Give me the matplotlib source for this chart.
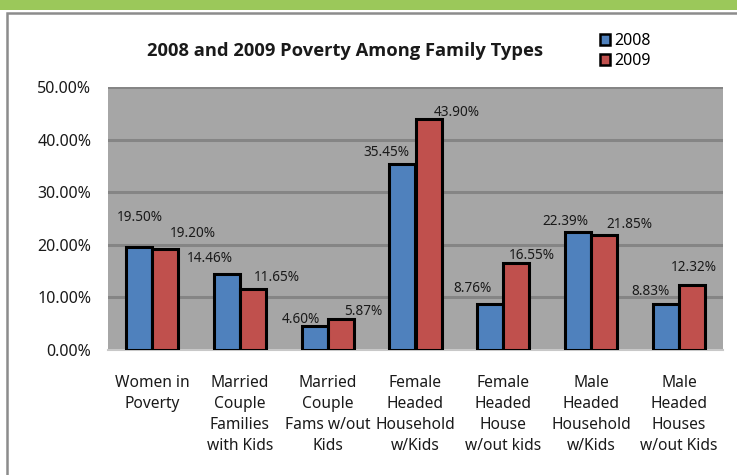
import matplotlib
matplotlib.use("Agg")
import matplotlib.pyplot as plt
from matplotlib.patches import Rectangle, Patch
import numpy as np

plt.rcParams['font.family'] = ['Noto Sans', 'DejaVu Sans']

categories = ["Women in\nPoverty", "Married\nCouple\nFamilies\nwith Kids",
              "Married\nCouple\nFams w/out\nKids", "Female\nHeaded\nHousehold\nw/Kids",
              "Female\nHeaded\nHouse\nw/out kids", "Male\nHeaded\nHousehold\nw/Kids",
              "Male\nHeaded\nHouses\nw/out Kids"]
series_2008 = [19.50, 14.46, 4.60, 35.45, 8.76, 22.39, 8.83]
series_2009 = [19.20, 11.65, 5.87, 43.90, 16.55, 21.85, 12.32]
series_names = ["2008", "2009"]
ytick_values = [0, 10, 20, 30, 40, 50]

# label offsets (pixels) relative to bar top center
off_2008 = [(1, 30), (-17, 15), (-14, 6), (-16, 11), (-18, 15), (-13, 11), (-16, 12)]
off_2009 = [(28, 16), (24, 11), (23, 8), (28, 7), (15, 7), (25, 11), (2, 18)]

W, H = 737, 475
fig = plt.figure(figsize=(W / 100, H / 100), dpi=100)
fig.patch.set_facecolor('white')

# green band and outer frame
fig.patches.append(Rectangle((0, 1 - 10 / H), 1, 10 / H, transform=fig.transFigure,
                             facecolor='#9BC85A', edgecolor='none', zorder=0))
fig.patches.append(Rectangle((7 / W, -0.05), 1.0, 1 - 13 / H + 0.05, transform=fig.transFigure,
                             facecolor='none', edgecolor='#8C8C8C', linewidth=1.8, zorder=0))

ax = fig.add_axes([108 / W, 1 - 350 / H, (723 - 108) / W, (350 - 87) / H])
ax.set_facecolor('#A6A6A6')

x = np.arange(len(categories))
bw = 0.296
b1 = ax.bar(x - bw / 2, series_2008, bw, color='#4F81BD', edgecolor='black', linewidth=2.2,
            label=series_names[0], zorder=3)
b2 = ax.bar(x + bw / 2, series_2009, bw, color='#C0504D', edgecolor='black', linewidth=2.2,
            label=series_names[1], zorder=3)

for bars, vals, offs in [(b1, series_2008, off_2008), (b2, series_2009, off_2009)]:
    for rect, v, (dx, dy) in zip(bars, vals, offs):
        ax.annotate(f"{v:.2f}%", (rect.get_x() + rect.get_width() / 2, v),
                    xytext=(dx, dy), textcoords='offset pixels', ha='center', va='center',
                    fontsize=9.8, color='#1a1a1a', zorder=5)

ax.set_xlim(-0.5, len(categories) - 0.5)
ax.set_ylim(0, 50)
ax.set_yticks(ytick_values)
ax.set_yticklabels([f"{v:.2f}%" for v in ytick_values], fontsize=11.5, color='#1a1a1a')
ax.set_xticks(x)
ax.set_xticklabels(categories, fontsize=11.2, color='#1a1a1a', linespacing=1.42, va='top')
ax.tick_params(axis='x', length=0, pad=18)
ax.tick_params(axis='y', length=0, pad=12)
ax.yaxis.grid(True, color='#858585', linewidth=2.2, zorder=1)
ax.set_axisbelow(True)
for s in ['left', 'right', 'top']:
    ax.spines[s].set_visible(False)
ax.spines['bottom'].set_color('#C8C8C8')
ax.spines['bottom'].set_linewidth(1.5)

fig.text(345 / W, 1 - 51 / H, "2008 and 2009 Poverty Among Family Types", ha='center', va='center',
         fontsize=13.2, fontweight='bold', color='#1a1a1a', family=['Open Sans', 'DejaVu Sans'])

handles = [Patch(facecolor='#4F81BD', edgecolor='black', linewidth=1.8),
           Patch(facecolor='#C0504D', edgecolor='black', linewidth=1.8)]
fig.legend(handles, series_names, loc='center left', bbox_to_anchor=(592 / W, 1 - 51 / H),
           frameon=False, fontsize=11.5, handlelength=0.65, handleheight=0.65, handletextpad=0.25,
           labelspacing=0.25, borderpad=0)

fig.savefig("out.png", dpi=100)
